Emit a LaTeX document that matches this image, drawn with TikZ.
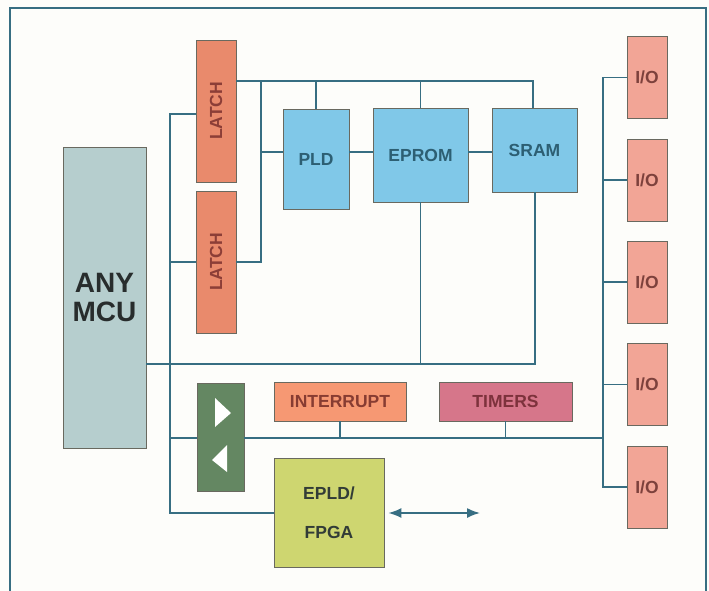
\documentclass[tikz,border=0pt]{standalone}
\usepackage{fontspec}
\setmainfont{Liberation Sans}
\usetikzlibrary{arrows.meta}
\definecolor{wire}{RGB}{55,110,130}
\definecolor{bg}{RGB}{253,253,250}
\definecolor{latchc}{RGB}{233,138,108}
\definecolor{latcht}{RGB}{140,62,55}
\definecolor{bluec}{RGB}{128,200,232}
\definecolor{bluet}{RGB}{45,95,115}
\definecolor{mcuc}{RGB}{182,206,206}
\definecolor{mcut}{RGB}{40,45,45}
\definecolor{ioc}{RGB}{242,165,150}
\definecolor{iot}{RGB}{125,65,60}
\definecolor{intc}{RGB}{246,152,115}
\definecolor{intt}{RGB}{135,60,50}
\definecolor{timc}{RGB}{214,118,138}
\definecolor{timt}{RGB}{125,50,60}
\definecolor{fpgac}{RGB}{206,214,112}
\definecolor{fpgat}{RGB}{50,60,55}
\definecolor{bufc}{RGB}{100,135,98}
\definecolor{edgec}{RGB}{105,105,95}
\tikzset{
  box/.style={draw=edgec, line width=0.8pt, inner sep=0pt, font=\fontsize{17.5}{20}\selectfont\bfseries, align=center},
  wireline/.style={draw=wire, line width=1.7pt},
}
\begin{document}
\begin{tikzpicture}[x=1pt,y=-1pt]
\useasboundingbox (0,0) rectangle (709,591);
\fill[bg] (0,0) rectangle (709,591);
\draw[wire, line width=1.5pt] (10,591) -- (10,8) -- (706,8) -- (706,591);

% nodes
\node[box, fill=mcuc, text=mcut, minimum width=83, minimum height=301, font=\fontsize{28}{29}\selectfont\bfseries] (mcu) at (104.5,297.5) {ANY\\MCU};
\node[box, fill=latchc, text=latcht, minimum width=40, minimum height=142] (latch1) at (216,111) {};
\node[rotate=90, text=latcht, font=\fontsize{17.5}{20}\selectfont\bfseries] (latch1t) at (latch1.center) {LATCH};
\node[box, fill=latchc, text=latcht, minimum width=40, minimum height=142] (latch2) at (216,262) {};
\node[rotate=90, text=latcht, font=\fontsize{17.5}{20}\selectfont\bfseries] (latch2t) at (latch2.center) {LATCH};
\node[box, fill=bluec, text=bluet, minimum width=66, minimum height=100] (pld) at (316,159) {PLD};
\node[box, fill=bluec, text=bluet, minimum width=95, minimum height=94] (eprom) at (420.5,155) {EPROM};
\node[box, fill=bluec, text=bluet, minimum width=85, minimum height=84] (sram) at (534.5,150) {SRAM};
\node[box, fill=bufc, minimum width=47, minimum height=108] (buf) at (220.5,437) {};
\node[box, fill=intc, text=intt, minimum width=132, minimum height=39] (intr) at (340,401.5) {INTERRUPT};
\node[box, fill=timc, text=timt, minimum width=133, minimum height=39] (timers) at (505.5,401.5) {TIMERS};
\node[box, fill=fpgac, text=fpgat, minimum width=110, minimum height=109, font=\fontsize{17.5}{39}\selectfont\bfseries] (fpga) at (329,512.5) {EPLD/\\FPGA};
\foreach \i/\y in {1/77.5,2/180,3/282,4/384.5,5/487}{
  \node[box, fill=ioc, text=iot, minimum width=40, minimum height=82] (io\i) at (647,\y) {I/O};
}
% buffer triangles
\fill[white] (215,398) -- (215,427) -- (231,413) -- cycle;
\fill[white] (227,445) -- (227,472) -- (212,460) -- cycle;

% junction coordinates
\coordinate (bT) at (170,114);
\coordinate (bB) at (170,513);
\coordinate (mr) at (535,364);
\coordinate (tb) at (533,81);
\coordinate (v) at (261,81);
\coordinate (r) at (0,152);
\coordinate (lb) at (603,438);
\coordinate (ae) at (480,513);

% connectors
\draw[wireline] (latch1.west|-bT) -- (bT) -- (bB) -- (fpga.west|-bB);
\draw[wireline] (latch2.west) -- (latch2.west-|bT);
\draw[wireline] (mcu.east|-mr) -- (mr) -- (mr|-sram.south);
\draw[wireline] (eprom.south) -- (eprom.south|-mr);
\draw[wireline] (latch1.east|-tb) -- (tb) -- (tb|-sram.north);
\draw[wireline] (pld.north) -- (pld.north|-tb);
\draw[wireline] (eprom.north) -- (eprom.north|-tb);
\draw[wireline] (v) -- (v|-latch2.east) -- (latch2.east);
\draw[wireline] (v|-r) -- (pld.west|-r);
\draw[wireline] (pld.east|-r) -- (eprom.west|-r);
\draw[wireline] (eprom.east|-r) -- (sram.west|-r);
\draw[wireline] (bT|-lb) -- (buf.west|-lb);
\draw[wireline] (buf.east|-lb) -- (lb);
\draw[wireline] (intr.south) -- (intr.south|-lb);
\draw[wireline] (timers.south) -- (timers.south|-lb);
\draw[wireline] (io1.west) -- (io1.west-|lb) -- (io5.west-|lb) -- (io5.west);
\foreach \i in {2,3,4}{\draw[wireline] (io\i.west) -- (io\i.west-|lb);}
\draw[wireline, {Latex[length=13pt,width=10pt]}-{Latex[length=13pt,width=10pt]}] ([xshift=4pt]fpga.east|-bB) -- (ae);
\end{tikzpicture}
\end{document}
